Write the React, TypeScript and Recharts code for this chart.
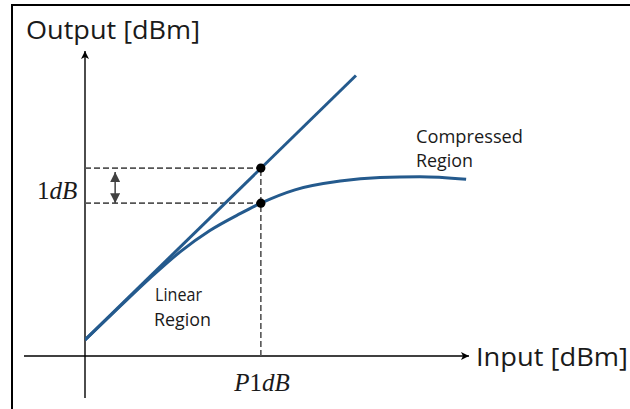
import React from 'react';
import { ComposedChart, Line, Scatter, XAxis, YAxis, ReferenceLine } from 'recharts';

// input / output levels in dB (schematic, no ticks shown)
const linearInput = [0, 7.55];
const linearOutput = [0.46, 8.0];
const curveInput = [0, 0.98, 1.81, 2.65, 3.48, 4.32, 4.9, 5.85, 7.11, 8.22, 9.33, 10.62];
const curveOutput = [0.46, 1.42, 2.22, 2.97, 3.58, 4.06, 4.36, 4.74, 4.99, 5.09, 5.11, 5.04];
const p1dbInput = 4.9;
const p1dbOutputs = [5.36, 4.36];
const xDomain = [0, 10.7];
const yDomain = [0, 8.7];
const axisTitles = ['Input [dBm]', 'Output [dBm]'];
const regionLabels = [['Linear', 'Region'], ['Compressed', 'Region']];

const BLUE = '#245a8d';
const DASH = '#555';
const W = 630;
const H = 409;

const linearData = linearInput.map((x, i) => ({ x, y: linearOutput[i] }));
const curveData = curveInput.map((x, i) => ({ x, y: curveOutput[i] }));
const dotData = p1dbOutputs.map(y => ({ x: p1dbInput, y }));

const AxisArrow = (props: any) => (
  <g>
    <defs>
      <marker id="axisHead" viewBox="0 0 10 10" refX="10" refY="5" markerUnits="userSpaceOnUse"
        markerWidth="9" markerHeight="8" orient="auto">
        <path d="M0,0 L10,5 L0,10 L2.5,5 z" fill="#000" />
      </marker>
    </defs>
    <line x1={props.x1} y1={props.y1} x2={props.x2} y2={props.y2} stroke="#000" strokeWidth={1.4} markerEnd="url(#axisHead)" />
  </g>
);

const DoubleArrow = (props: any) => (
  <g>
    <defs>
      <marker id="gapHead" viewBox="0 0 10 10" refX="10" refY="5" markerUnits="userSpaceOnUse"
        markerWidth="10" markerHeight="10" orient="auto-start-reverse">
        <path d="M0,0 L10,5 L0,10 z" fill="#404040" />
      </marker>
    </defs>
    <line x1={props.x1} y1={props.y1 + 4} x2={props.x2} y2={props.y2} stroke="#404040" strokeWidth={1.5}
      markerStart="url(#gapHead)" markerEnd="url(#gapHead)" />
  </g>
);

const textStyle = { fontFamily: '"Open Sans", sans-serif', fill: '#1a1a1a' };
const mathStyle = { fontFamily: '"Liberation Serif", serif', fill: '#1a1a1a' };

export default function App() {
  return (
    <div style={{ position: 'absolute', left: 0, top: 0, width: W, height: H, background: '#fff', overflow: 'hidden' }}>
      <div style={{ position: 'absolute', left: 11, top: 4, width: W, height: H, borderTop: '2px solid #000', borderLeft: '2px solid #000' }} />
      <div style={{ position: 'absolute', left: 0, top: 0 }}>
        <ComposedChart width={W} height={H} margin={{ top: 51, right: 161, bottom: 53, left: 85 }}>
          <XAxis type="number" dataKey="x" domain={xDomain} hide allowDataOverflow />
          <YAxis type="number" dataKey="y" domain={yDomain} hide allowDataOverflow />
          <ReferenceLine segment={[{ x: -1.7, y: 0 }, { x: xDomain[1], y: 0 }]} ifOverflow="visible" shape={AxisArrow} />
          <ReferenceLine segment={[{ x: 0, y: -1.2 }, { x: 0, y: yDomain[1] }]} ifOverflow="visible" shape={AxisArrow} />
          {p1dbOutputs.map((y, i) => (
            <ReferenceLine key={i} segment={[{ x: 0, y }, { x: p1dbInput, y }]} stroke={DASH} strokeWidth={1.6} strokeDasharray="6 3" ifOverflow="visible" />
          ))}
          <ReferenceLine segment={[{ x: p1dbInput, y: 0 }, { x: p1dbInput, y: p1dbOutputs[0] }]} stroke={DASH} strokeWidth={1.6} strokeDasharray="6 3" ifOverflow="visible" />
          <ReferenceLine segment={[{ x: 0.84, y: p1dbOutputs[0] }, { x: 0.84, y: p1dbOutputs[1] }]} ifOverflow="visible" shape={DoubleArrow} />
          <Line data={linearData} dataKey="y" type="linear" stroke={BLUE} strokeWidth={3} dot={false} activeDot={false} isAnimationActive={false} />
          <Line data={curveData} dataKey="y" type="monotone" stroke={BLUE} strokeWidth={3} dot={false} activeDot={false} isAnimationActive={false} />
          <Scatter data={dotData} dataKey="y" fill="#000" isAnimationActive={false}
            shape={(p: any) => <circle cx={p.cx} cy={p.cy} r={4.6} fill="#000" />} />
        </ComposedChart>
      </div>
      <svg width={W} height={H} style={{ position: 'absolute', left: 0, top: 0, pointerEvents: 'none' }}>
        <text x={26} y={39} fontSize={25} textLength={174} lengthAdjust="spacingAndGlyphs" style={textStyle}>{axisTitles[1]}</text>
        <text x={476} y={366} fontSize={25} textLength={152} lengthAdjust="spacingAndGlyphs" style={textStyle}>{axisTitles[0]}</text>
        <text x={155} y={301} fontSize={19} textLength={47} lengthAdjust="spacingAndGlyphs" style={textStyle}>{regionLabels[0][0]}</text>
        <text x={154} y={326} fontSize={19} textLength={57} lengthAdjust="spacingAndGlyphs" style={textStyle}>{regionLabels[0][1]}</text>
        <text x={416} y={143} fontSize={19} textLength={107} lengthAdjust="spacingAndGlyphs" style={textStyle}>{regionLabels[1][0]}</text>
        <text x={416} y={167} fontSize={19} textLength={57} lengthAdjust="spacingAndGlyphs" style={textStyle}>{regionLabels[1][1]}</text>
        <text x={37} y={199} fontSize={25} style={mathStyle}>1<tspan fontStyle="italic">dB</tspan></text>
        <text x={262} y={391} fontSize={25} textAnchor="middle" style={mathStyle}><tspan fontStyle="italic">P</tspan>1<tspan fontStyle="italic">dB</tspan></text>
      </svg>
    </div>
  );
}
